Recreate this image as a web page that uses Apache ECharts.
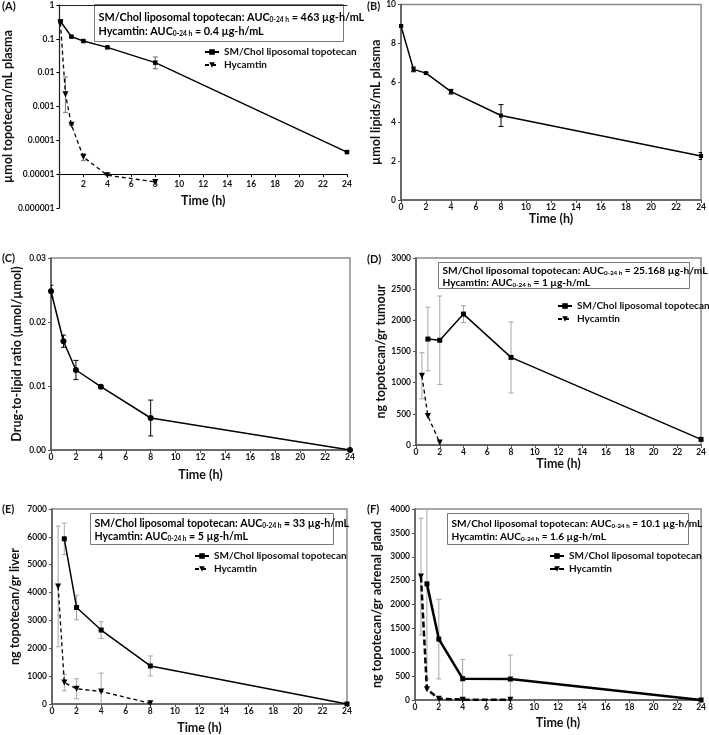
<!DOCTYPE html>
<html><head><meta charset="utf-8">
<script src="https://cdn.jsdelivr.net/npm/echarts@6/dist/echarts.min.js"></script>
<style>html,body{margin:0;padding:0;background:#fff}#c{width:709px;height:735px}</style>
</head><body><div id="c"></div>
<script>
// ---------------- DATA ----------------
const SM = 'SM/Chol liposomal topotecan';
const HYC = 'Hycamtin';

// (A) µmol topotecan / mL plasma (log scale)
const aSmTime = [0.083, 1, 2, 4, 8, 24];
const aSmVal  = [0.33, 0.116, 0.086, 0.056, 0.0198, 0.000045];
const aSmLow  = [0.29, 0.112, 0.083, 0.053, 0.0131, 0.000042];
const aSmHigh = [0.37, 0.120, 0.089, 0.059, 0.029, 0.000048];
const aHycTime = [0.083, 0.5, 1, 2, 4, 8];
const aHycVal  = [0.30, 0.0023, 0.00029, 0.000032, 0.0000093, 0.0000059];
const aHycLow  = [0.29, 0.00067, 0.00028, 0.000025, 0.0000091, 0.0000050];
const aHycHigh = [0.31, 0.0075, 0.00030, 0.000040, 0.0000095, 0.0000070];

// (B) µmol lipids / mL plasma
const bTime = [0, 1, 2, 4, 8, 24];
const bVal  = [8.9, 6.68, 6.49, 5.54, 4.32, 2.25];
const bSd   = [0.05, 0.12, 0.04, 0.12, 0.56, 0.18];

// (C) drug-to-lipid ratio
const cTime = [0, 1, 2, 4, 8, 24];
const cVal  = [0.0248, 0.0170, 0.0125, 0.0099, 0.0050, 0.0];
const cSd   = [0.00095, 0.00095, 0.0015, 0.0002, 0.0028, 0];

// (D) ng topotecan / gr tumour
const dSmTime = [1, 2, 4, 8, 24];
const dSmVal  = [1700, 1680, 2100, 1405, 90];
const dSmSd   = [510, 710, 135, 570, 0];
const dHycTime = [0.5, 1, 2];
const dHycVal  = [1110, 465, 40];
const dHycSd   = [370, 0, 0];

// (E) ng topotecan / gr liver
const eSmTime = [1, 2, 4, 8, 24];
const eSmVal  = [5930, 3465, 2655, 1365, 0];
const eSmSd   = [565, 440, 297, 360, 0];
const eHycTime = [0.5, 1, 2, 4, 8];
const eHycVal  = [4220, 770, 545, 450, 25];
const eHycSd   = [2165, 297, 360, 660, 0];

// (F) ng topotecan / gr adrenal gland
const fSmTime = [1, 2, 4, 8, 24];
const fSmVal  = [2432, 1275, 446, 439, 0];
const fSmSd   = [1990, 833, 404, 502, 0];
const fHycTime = [0.5, 1, 2, 4, 8];
const fHycVal  = [2585, 223, 28, 7, 7];
const fHycSd   = [1223, 0, 0, 0, 0];

// AUC annotations
const aucSM  = ['463', '25.168', '33', '10.1'];
const aucHyc = ['0.4', '1', '5', '1.6'];

// ---------------- CHART ----------------
const FONT = 'Lato';
const chart = echarts.init(document.getElementById('c'), null, {renderer: 'canvas'});

const zip = (xs, ys) => xs.map((x, i) => [x, ys[i]]);

function errSeries(idx, time, low, high, color) {
  const data = [];
  time.forEach((t, k) => { if (high[k] > low[k]) data.push([t, low[k], high[k]]); });
  return {
    type: 'custom', xAxisIndex: idx, yAxisIndex: idx, silent: true, clip: true, z: 1,
    data: data,
    renderItem(params, api) {
      const t = api.value(0);
      const p1 = api.coord([t, api.value(1)]);
      const p2 = api.coord([t, api.value(2)]);
      const w = 2.5;
      const st = {stroke: color, lineWidth: 1};
      return {type: 'group', children: [
        {type: 'line', shape: {x1: p1[0], y1: p1[1], x2: p2[0], y2: p2[1]}, style: st},
        {type: 'line', shape: {x1: p1[0] - w, y1: p1[1], x2: p1[0] + w, y2: p1[1]}, style: st},
        {type: 'line', shape: {x1: p2[0] - w, y1: p2[1], x2: p2[0] + w, y2: p2[1]}, style: st}
      ]};
    }
  };
}
const sdLow = (v, s) => v.map((x, i) => x - s[i]);
const sdHigh = (v, s) => v.map((x, i) => x + s[i]);

function lineSeries(idx, name, time, val, opts) {
  return Object.assign({
    type: 'line', name: name, xAxisIndex: idx, yAxisIndex: idx, z: 3,
    data: zip(time, val), symbol: 'rect', symbolSize: 5, showSymbol: true,
    lineStyle: {color: '#000', width: 1.5}, itemStyle: {color: '#000'},
    animation: false
  }, opts || {});
}
const hycOpts = (w, dash) => ({symbol: 'triangle', symbolRotate: 180, symbolSize: 6,
  lineStyle: {color: '#000', width: w || 1.5, type: dash || [4, 3]}});

const grids = [
  {left: 51, top: 5, width: 296, height: 203},
  {left: 401, top: 3, width: 301, height: 197},
  {left: 51, top: 258, width: 299, height: 192},
  {left: 416, top: 258, width: 288, height: 187},
  {left: 52, top: 509, width: 295, height: 197},
  {left: 415, top: 509, width: 289, height: 191}
].map((g, i) => Object.assign(g, {
  show: i > 0, borderColor: '#8c8c8c', borderWidth: 1.5, backgroundColor: 'transparent'
}));

const lbl = {fontFamily: FONT, fontWeight: 'bold', fontSize: 8.5, color: '#111'};
const nameSt = {fontFamily: FONT, fontWeight: 'bold', fontSize: 12.5, color: '#111'};
const axColor = '#555';
const plain = v => String(v);

function xAx(i, opts) {
  return Object.assign({
    type: 'value', gridIndex: i, min: 0, max: 24, interval: 2,
    name: 'Time (h)', nameLocation: 'middle', nameGap: 16, nameTextStyle: nameSt,
    axisLine: {show: true, lineStyle: {color: axColor, width: 1.5}},
    axisTick: {show: true, length: 3, lineStyle: {color: axColor}},
    axisLabel: Object.assign({margin: 3, formatter: plain}, lbl),
    splitLine: {show: false}
  }, opts || {});
}
function yAx(i, name, min, max, interval, gap, opts) {
  return Object.assign({
    type: 'value', gridIndex: i, min: min, max: max, interval: interval,
    name: name, nameLocation: 'middle', nameGap: gap, nameTextStyle: nameSt,
    axisLine: {show: true, lineStyle: {color: axColor, width: 1.5}},
    axisTick: {show: true, length: 3, lineStyle: {color: axColor}},
    axisLabel: Object.assign({margin: 5, formatter: plain}, lbl),
    splitLine: {show: false}
  }, opts || {});
}

const logLabel = v => {
  const e = Math.round(Math.log10(v));
  return e >= 0 ? '1' : '0.' + '0'.repeat(-e - 1) + '1';
};

const xAxes = [
  xAx(0, {offset: -203 / 6, nameGap: 20,
    axisLine: {show: true, lineStyle: {color: '#000', width: 1.2}},
    axisTick: {show: true, length: 3, lineStyle: {color: '#000'}},
    axisLabel: Object.assign({margin: 6, showMinLabel: false, formatter: plain}, lbl)}),
  xAx(1, {nameGap: 10}),
  xAx(2, {nameGap: 18}),
  xAx(3, {nameGap: 12}),
  xAx(4, {nameGap: 17}),
  xAx(5, {nameGap: 16}),
  // top border of (A)
  {type: 'value', gridIndex: 0, position: 'top', min: 0, max: 24,
   axisLine: {show: true, lineStyle: {color: '#222', width: 1}},
   axisTick: {show: false}, axisLabel: {show: false}, splitLine: {show: false}}
];
const yAxes = [
  yAx(0, 'µmol topotecan/mL plasma', 0.000001, 1, null, 37, {
    type: 'log', logBase: 10, interval: undefined,
    axisLine: {show: true, lineStyle: {color: '#000', width: 1.2}},
    axisTick: {show: true, length: 3, lineStyle: {color: '#000'}},
    axisLabel: Object.assign({margin: 5, formatter: logLabel}, lbl)}),
  yAx(1, 'µmol lipids/mL plasma', 0, 10, 2, 15),
  yAx(2, 'Drug-to-lipid ratio (µmol/µmol)', 0, 0.03, 0.01, 28, {
    axisLabel: Object.assign({margin: 5, formatter: v => v.toFixed(2)}, lbl)}),
  yAx(3, 'ng topotecan/gr tumour', 0, 3000, 500, 28),
  yAx(4, 'ng topotecan/gr liver', 0, 7000, 1000, 31),
  yAx(5, 'ng topotecan/gr adrenal gland', 0, 4000, 500, 32),
  // right border of (A)
  {type: 'value', gridIndex: 0, position: 'right', min: 0, max: 1,
   axisLine: {show: true, lineStyle: {color: '#222', width: 1}},
   axisTick: {show: false}, axisLabel: {show: false}, splitLine: {show: false}}
];

const grey = '#a6a6a6';
const series = [
  // A
  errSeries(0, aSmTime, aSmLow, aSmHigh, '#666'),
  errSeries(0, aHycTime, aHycLow, aHycHigh, '#777'),
  lineSeries(0, 'A|' + SM, aSmTime, aSmVal, {symbolSize: 4.5}),
  lineSeries(0, 'A|' + HYC, aHycTime, aHycVal, hycOpts(1.3)),
  // B
  errSeries(1, bTime, sdLow(bVal, bSd), sdHigh(bVal, bSd), '#000'),
  lineSeries(1, 'B|lipids', bTime, bVal, {symbolSize: 4}),
  // C
  errSeries(2, cTime, sdLow(cVal, cSd), sdHigh(cVal, cSd), '#000'),
  lineSeries(2, 'C|ratio', cTime, cVal, {symbol: 'circle', symbolSize: 6}),
  // D
  errSeries(3, dSmTime, sdLow(dSmVal, dSmSd), sdHigh(dSmVal, dSmSd), grey),
  errSeries(3, dHycTime, sdLow(dHycVal, dHycSd), sdHigh(dHycVal, dHycSd), grey),
  lineSeries(3, 'D|' + SM, dSmTime, dSmVal),
  lineSeries(3, 'D|' + HYC, dHycTime, dHycVal, hycOpts(1.3)),
  // E
  errSeries(4, eSmTime, sdLow(eSmVal, eSmSd), sdHigh(eSmVal, eSmSd), grey),
  errSeries(4, eHycTime, sdLow(eHycVal, eHycSd), sdHigh(eHycVal, eHycSd), grey),
  lineSeries(4, 'E|' + SM, eSmTime, eSmVal),
  lineSeries(4, 'E|' + HYC, eHycTime, eHycVal, hycOpts(1.3)),
  // F
  errSeries(5, fSmTime, sdLow(fSmVal, fSmSd), sdHigh(fSmVal, fSmSd), grey),
  errSeries(5, fHycTime, sdLow(fHycVal, fHycSd), sdHigh(fHycVal, fHycSd), grey),
  lineSeries(5, 'F|' + SM, fSmTime, fSmVal, {lineStyle: {color: '#000', width: 2.5}}),
  lineSeries(5, 'F|' + HYC, fHycTime, fHycVal, hycOpts(2.5, [6, 3]))
];

const legTxt = {fontFamily: FONT, fontWeight: 'bold', fontSize: 10, color: '#111'};
function legend(p, left, top) {
  return {
    orient: 'vertical', left: left, top: top, itemWidth: 14, itemHeight: 7, itemGap: 3,
    padding: 0, selectedMode: false, data: [p + '|' + SM, p + '|' + HYC],
    formatter: n => n.split('|')[1], textStyle: legTxt
  };
}

function aucBox(x, y, w, h, i, fs, lh, ty) {
  const sf = fs * 0.62;
  const rich = {
    n: {fontFamily: FONT, fontWeight: 'bold', fontSize: fs, color: '#111', lineHeight: lh, verticalAlign: 'bottom'},
    s: {fontFamily: FONT, fontWeight: 'bold', fontSize: sf, color: '#111', lineHeight: sf, verticalAlign: 'bottom'}
  };
  return {type: 'group', left: x, top: y, children: [
    {type: 'rect', shape: {x: 0, y: 0, width: w, height: h},
     style: {fill: '#fff', stroke: '#777', lineWidth: 1}},
    {type: 'text', x: 4, y: ty, style: {
      text: '{n|' + SM + ': AUC}{s|0-24 h}{n| = ' + aucSM[i] + ' µg-h/mL}\n' +
            '{n|' + HYC + ': AUC}{s|0-24 h}{n| = ' + aucHyc[i] + ' µg-h/mL}',
      rich: rich}}
  ]};
}
const panelLabel = (t, x, y) => ({type: 'text', left: x, top: y,
  style: {text: t, fontFamily: FONT, fontWeight: 'bold', fontSize: 11, fill: '#111'}});

chart.setOption({
  animation: false,
  backgroundColor: '#fff',
  grid: grids,
  xAxis: xAxes,
  yAxis: yAxes,
  series: series,
  legend: [legend('A', 204, 47), legend('D', 557, 301), legend('E', 194, 551), legend('F', 549, 551)],
  graphic: [
    aucBox(94, 4, 249, 37, 0, 10.8, 14, 5),
    aucBox(438, 262, 251, 26, 1, 10.2, 12, 1),
    aucBox(90, 513, 243, 31, 2, 10.6, 13, 2.5),
    aucBox(447, 513, 241, 31, 3, 10.1, 13, 2.5),
    panelLabel('(A)', 2, 1), panelLabel('(B)', 367, 1),
    panelLabel('(C)', 2, 253), panelLabel('(D)', 367, 254),
    panelLabel('(E)', 2, 504), panelLabel('(F)', 367, 504)
  ]
});
</script>
</body></html>
